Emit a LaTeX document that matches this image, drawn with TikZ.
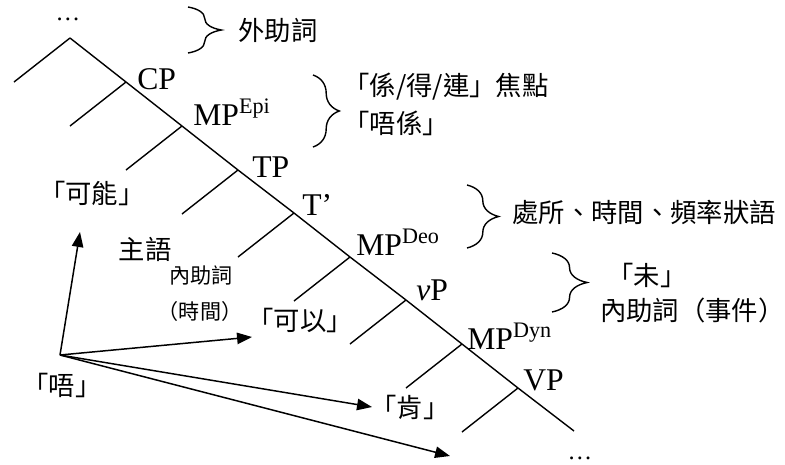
\documentclass[tikz,border=0pt]{standalone}
\usepackage{fontspec}
\setmainfont{Liberation Serif}
\newfontfamily\cjk{Noto Sans CJK TC}
\usetikzlibrary{
  arrows.meta,
  positioning,
  decorations.pathreplacing
}

\begin{document}
\begin{tikzpicture}[x=0.02cm, y=-0.02cm,
  tree/.style={line width=0.8pt},
  cat/.style={font=\fontsize{18}{21}\selectfont, inner sep=0pt, anchor=base west},
  zh/.style={font=\cjk\fontsize{15}{18}\selectfont, inner sep=0pt},
  zhsmall/.style={font=\cjk\fontsize{12}{14}\selectfont, inner sep=0pt},
  arr/.style={-{Triangle[length=8.5pt,width=6.5pt]}, line width=0.85pt},
  brc/.style={decorate, decoration={brace, amplitude=#1}, line width=0.8pt}]
  \useasboundingbox (0,0) rectangle (785,464);

  % Spine points
  \coordinate (top) at (70,38);
  \coordinate (cp) at (126,82);
  \coordinate (mpepi) at (182,126);
  \coordinate (tp) at (238,170);
  \coordinate (tbar) at (294,213);
  \coordinate (mpdeo) at (350,257);
  \coordinate (vp) at (406,300);
  \coordinate (mpdyn) at (462,344);
  \coordinate (vpp) at (518,388);
  \coordinate (bottom) at (574,431);

  % Tree
  \draw[tree] (top) -- (cp) -- (mpepi) -- (tp) -- (tbar) -- (mpdeo) -- (vp) -- (mpdyn) -- (vpp) -- (bottom);
  \foreach \n in {top,cp,mpepi,tp,tbar,mpdeo,vp,mpdyn,vpp} {
    \draw[tree] (\n) -- ++(-56,44);
  }

  % Category labels
  \node[cat] (cpL) at ([shift={(11,7)}]cp) {CP};
  \node[cat] (mpepiL) at ([shift={(11,-1)}]mpepi) {MP\textsuperscript{Epi}};
  \node[cat] (tpL) at ([shift={(14,7)}]tp) {TP};
  \node[cat] (tbarL) at ([shift={(8,2)}]tbar) {T’};
  \node[cat] (mpdeoL) at ([shift={(6,-2)}]mpdeo) {MP\textsuperscript{Deo}};
  \node[cat] (vpL) at ([shift={(10,0)}]vp) {\textit{v}P};
  \node[cat] (mpdynL) at ([shift={(5,5)}]mpdyn) {MP\textsuperscript{Dyn}};
  \node[cat] (vppL) at ([shift={(5,2)}]vpp) {VP};

  \node[cat, anchor=base, font=\fontsize{14}{16}\selectfont] (dotsT) at (68,20) {…};
  \node[cat, anchor=base, font=\fontsize{14}{16}\selectfont] (dotsB) at (580,459) {…};

  % Braces
  \draw[brc=19pt] (188,7) -- (188,53);
  \draw[brc=15pt] (313,75) -- (313,147);
  \draw[brc=18pt] (467,185) -- (467,248);
  \draw[brc=20pt] (552,253) -- (552,312);

  % Right-hand notes
  \node[zh] (outer) at (278,30) {外助詞};
  \node[zh, anchor=west] (focus) at (343,87) {「係/得/連」焦點};
  \node[zh, anchor=west] (neg) at (343,123) {「唔係」};
  \node[zh, anchor=west] (adv) at (512,212) {處所、時間、頻率狀語};
  \node[zh] (mei) at (647,275) {「未」};
  \node[zh, anchor=east] (inner) at (785,310) {內助詞（事件）};

  % Left-hand words
  \node[zh] (keneng) at (92,193) {「可能」};
  \node[zh] (subj) at (145,249) {主語};
  \node[zhsmall] (innerT) at (201,275) {內助詞};
  \node[zhsmall] (time) at (200,311) {（時間）};
  \node[zh] (keyi) at (300,320) {「可以」};
  \node[zh] (ken) at (410,407) {「肯」};
  \node[zh] (wu) at (62,385) {「唔」};

  % Arrows from the negator
  \coordinate (src) at (60,355);
  \coordinate (tipS) at (80,232);
  \coordinate (tipK) at (252,337);
  \coordinate (tipH) at (372,407);
  \coordinate (tipB) at (450,456);
  \draw[arr] (src) -- (tipS);
  \draw[arr] (src) -- (tipK);
  \draw[arr] (src) -- (tipH);
  \draw[arr] (src) -- (tipB);
\end{tikzpicture}
\end{document}
